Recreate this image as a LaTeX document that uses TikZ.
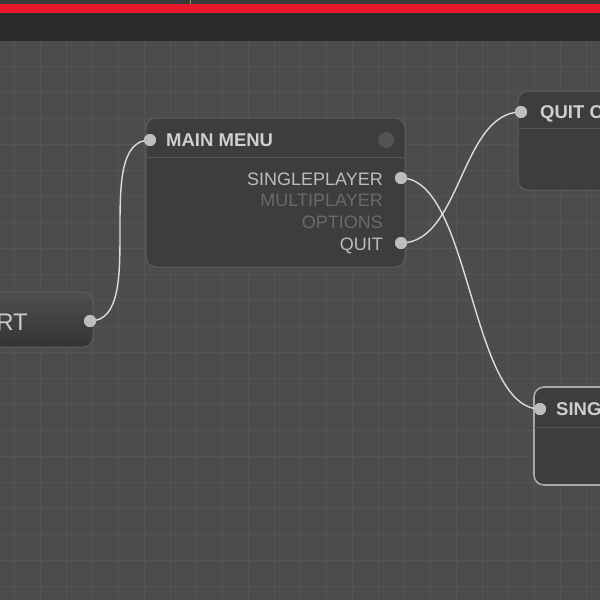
\documentclass[tikz,border=0pt]{standalone}
\usepackage{fontspec}
\setmainfont{Liberation Sans}
\definecolor{canvas}{HTML}{4C4C4C}
\definecolor{gridline}{HTML}{545454}
\definecolor{topstrip}{HTML}{3A3A3A}
\definecolor{alertred}{HTML}{E8192C}
\definecolor{toolbar}{HTML}{2A2A2A}
\definecolor{nodefill}{HTML}{3D3D3D}
\definecolor{nodeedge}{HTML}{5E5E5E}
\definecolor{selectedge}{HTML}{A8A8A8}
\definecolor{seprule}{HTML}{575757}
\definecolor{brighttext}{HTML}{CFCFCF}
\definecolor{rowbright}{HTML}{BDBDBD}
\definecolor{dimtext}{HTML}{6A6A6A}
\definecolor{portgrey}{HTML}{BDBDBD}
\definecolor{wiregrey}{HTML}{DCDCDC}
\definecolor{dotgrey}{HTML}{535353}
\definecolor{ticgreen}{HTML}{7AB648}
\begin{document}
\begin{tikzpicture}[x=1pt,y=-1pt,
  panel/.style={draw=nodeedge, fill=nodefill, line width=1pt, rounded corners=10pt,
                inner sep=0pt, rectangle},
  selpanel/.style={panel, draw=selectedge, line width=1.6pt},
  seprow/.style={draw=seprule, line width=1pt},
  titletext/.style={inner sep=0pt, anchor=base west, text=brighttext,
                    font=\bfseries\fontsize{18.5}{20}\selectfont},
  rowtext/.style={inner sep=0pt, anchor=base east, text=rowbright,
                  font=\fontsize{18}{20}\selectfont},
  rowdim/.style={rowtext, text=dimtext},
  port/.style={circle, fill=portgrey, inner sep=0pt, minimum size=12pt},
  wire/.style={draw=wiregrey, line width=1.4pt},
]
\useasboundingbox (0,0) rectangle (600,600);
\clip (0,0) rectangle (600,600);

% editor canvas with grid
\fill[canvas] (0,0) rectangle (600,600);
\foreach \gx in {14,40,...,600} \draw[gridline, line width=0.8pt] (\gx,41) -- (\gx,600);
\foreach \gy in {66,92,...,600} \draw[gridline, line width=0.8pt] (0,\gy) -- (600,\gy);

% window chrome at the top
\fill[topstrip] (0,0) rectangle (600,4);
\draw[ticgreen, line width=1pt] (190,0) -- (190,4);
\fill[alertred] (0,4) rectangle (600,13);
\fill[toolbar] (0,13) rectangle (600,41);

% START node
\node[panel, top color=nodefill!60!gray!90!black, bottom color=nodefill!85!black,
      minimum width=200pt, minimum height=55pt] (startbox) at (-7,319.5) {};
\node[inner sep=0pt, anchor=base east, text=brighttext!110,
      font=\fontsize{24}{26}\selectfont] (starttitle) at (28,330) {START};
\node[port] (startout) at (90,321) {};

% MAIN MENU node
\node[panel, minimum width=259pt, minimum height=149pt] (mainbox) at (275.5,192.5) {};
\draw[seprow] (146,157) -- (405,157);
\node[titletext] (maintitle) at (166,146.5) {MAIN MENU};
\node[circle, fill=dotgrey, minimum size=16pt, inner sep=0pt] (maindot) at (386,140) {};
\node[rowtext] (rowsingle) at (383,185) {SINGLEPLAYER};
\node[rowdim]  (rowmulti)  at (383,206.7) {MULTIPLAYER};
\node[rowdim]  (rowopts)   at (383,228.7) {OPTIONS};
\node[rowtext] (rowquit)   at (383,250) {QUIT};
\node[port] (mainin)   at (150,140) {};
\node[port] (singleout) at (401,178) {};
\node[port] (quitout)   at (401,243) {};

% QUIT CONFIRM node
\node[panel, minimum width=200pt, minimum height=99pt] (quitbox) at (618,140.5) {};
\draw[seprow] (518,128) -- (600,128);
\node[titletext] (quittitle) at (540,118.5) {QUIT CONFIRM};
\node[port] (quitin) at (521,112) {};

% SINGLEPLAYER node (selected)
\node[selpanel, minimum width=200pt, minimum height=98pt] (singlebox) at (634,436) {};
\draw[seprow] (534,427) -- (600,427);
\node[titletext] (singletitle) at (556,415) {SINGLEPLAYER};
\node[port] (singlein) at (540,409) {};

% connections
\draw[wire] (startout.center) .. controls (150,321) and (90,140) .. (mainin.center);
\draw[wire] (singleout.center) .. controls (471,178) and (470,409) .. (singlein.center);
\draw[wire] (quitout.center) .. controls (461,243) and (461,112) .. (quitin.center);

% port caps over the wire ends
\foreach \p in {startout,mainin,singleout,quitout,quitin,singlein}
  \fill[portgrey] (\p.center) circle (6pt);
\end{tikzpicture}
\end{document}
